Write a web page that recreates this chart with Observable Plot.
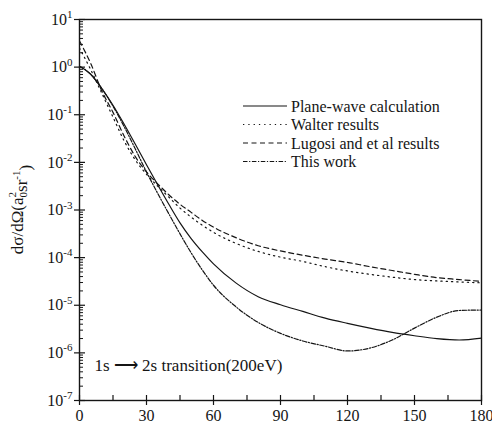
<!DOCTYPE html>
<html><head><meta charset="utf-8">
<script src="https://cdn.jsdelivr.net/npm/d3@7"></script>
<script src="https://cdn.jsdelivr.net/npm/@observablehq/plot@0.6"></script>
<style>body{margin:0;background:#fff} svg{display:block}
svg text{font-family:'Liberation Serif','Times New Roman',serif !important}</style>
</head><body><div id="chart"></div>
<script>
// ---- data (scattering angle in degrees, log10 of dσ/dΩ) ----
const angles = [0,5,10,15,20,25,30,35,40,45,50,55,60,70,80,90,100,110,120,130,140,150,160,170,180];
const planeWaveLog = [0.02,-0.15,-0.45,-0.80,-1.20,-1.62,-2.05,-2.47,-2.88,-3.27,-3.60,-3.88,-4.13,-4.53,-4.82,-4.99,-5.13,-5.27,-5.38,-5.48,-5.57,-5.64,-5.70,-5.73,-5.69];
const walterLog    = [0.40,-0.05,-0.55,-1.05,-1.55,-1.95,-2.25,-2.50,-2.73,-2.96,-3.15,-3.32,-3.47,-3.70,-3.87,-3.99,-4.08,-4.19,-4.28,-4.35,-4.41,-4.46,-4.49,-4.51,-4.53];
const lugosiLog    = [0.55,0.08,-0.50,-0.95,-1.45,-1.88,-2.20,-2.45,-2.68,-2.88,-3.05,-3.22,-3.36,-3.58,-3.75,-3.86,-3.95,-4.03,-4.10,-4.19,-4.27,-4.35,-4.42,-4.46,-4.50];
const thisWorkLog  = [0.02,-0.15,-0.45,-0.82,-1.25,-1.72,-2.20,-2.65,-3.08,-3.50,-3.90,-4.26,-4.58,-5.03,-5.36,-5.59,-5.75,-5.86,-5.96,-5.90,-5.73,-5.48,-5.25,-5.11,-5.10];
const seriesNames = ["Plane-wave calculation","Walter results","Lugosi and et al results","This work"];
const xTicks = [0,30,60,90,120,150,180];
const xMinorTicks = [15,45,75,105,135,165];
const yTickExponents = [-7,-6,-5,-4,-3,-2,-1,0,1];
const annotationText = "1s \u27F6 2s transition(200eV)";

// ---- styles ----
const INK = "#151515";
const FONT = "'Liberation Serif','Times New Roman',serif";
const dashes = ["none","1.3,4","5,3.5","4.5,1.6,1.2,1.6"];
const W = 492, H = 425, mL = 79, mR = 11, mT = 19, mB = 25;
const plotW = W - mL - mR, plotH = H - mT - mB;

const seriesLogs = [planeWaveLog, walterLog, lugosiLog, thisWorkLog];
const rows = [];
seriesNames.forEach((name, si) => angles.forEach((a, i) => rows.push({series: name, angle: a, value: 10 ** seriesLogs[si][i]})));
const yMajor = yTickExponents.map(e => 10 ** e);
const yMinor = [];
yTickExponents.slice(0, -1).forEach(e => { for (let m = 2; m <= 9; m++) yMinor.push(m * 10 ** e); });

const chart = Plot.plot({
  width: W, height: H, marginLeft: mL, marginRight: mR, marginTop: mT, marginBottom: mB,
  style: {fontFamily: FONT, fontSize: "16px", color: INK, background: "white", overflow: "visible"},
  x: {domain: [0, 180]},
  y: {type: "log", domain: [1e-7, 10]},
  marks: [
    ...seriesNames.map((name, si) => Plot.line(rows.filter(r => r.series === name), {
      x: "angle", y: "value", curve: "monotone-x", stroke: INK, strokeWidth: 1.2,
      strokeDasharray: dashes[si]
    })),
    Plot.tickY(yMinor, {y: d => d, insetRight: plotW - 4, stroke: INK, strokeWidth: 1}),
    Plot.tickY(yMajor, {y: d => d, insetRight: plotW - 6, stroke: INK, strokeWidth: 1.2}),
    Plot.tickX(xMinorTicks, {x: d => d, insetTop: plotH - 5, stroke: INK, strokeWidth: 1.2}),
    Plot.tickX(xTicks, {x: d => d, insetTop: plotH - 5, stroke: INK, strokeWidth: 1.2}),
    Plot.axisY({ticks: yMajor, tickSize: 5, tickPadding: 2, label: null, stroke: INK, strokeWidth: 1.2,
      tickFormat: d => String(Math.round(Math.log10(d))), fontSize: 16, fontFamily: FONT}),
    Plot.axisX({ticks: xTicks, tickSize: 5, tickPadding: 4, label: null, stroke: INK, strokeWidth: 1.2,
      tickFormat: d => String(d), fontSize: 16, fontFamily: FONT}),
    Plot.frame({stroke: INK, strokeWidth: 1.4}),
    Plot.text([annotationText], {frameAnchor: "bottom-left", dx: 15, dy: -35, text: d => d,
      textAnchor: "start", lineAnchor: "middle", fontSize: 17, fontFamily: FONT, fill: INK})
  ]
});
document.getElementById("chart").appendChild(chart);
chart.style.fontFamily = FONT;

const svg = d3.select(chart);
svg.selectAll("g[aria-label$='tick label']").attr("font-family", FONT).attr("fill", INK);
// superscript exponents on y tick labels
svg.selectAll('g[aria-label="y-axis tick label"] text').each(function () {
  const t = d3.select(this); const e = t.text().replace("\u2212", "-");
  t.text("10");
  t.append("tspan").attr("dy", "-0.6em").attr("font-size", "11px").text(e);
});

// y axis title with sub/superscripts
const yl = svg.append("text")
  .attr("transform", `translate(23,${mT + plotH / 2}) rotate(-90)`)
  .attr("text-anchor", "middle").attr("font-family", FONT).attr("font-size", 17).attr("fill", INK);
yl.append("tspan").text("dσ/dΩ(a");
yl.append("tspan").attr("font-size", 11).attr("dy", "0.35em").text("0");
yl.append("tspan").attr("font-size", 11).attr("dx", -5.5).attr("dy", "-1.0em").text("2");
yl.append("tspan").attr("dy", "0.65em").text("sr");
yl.append("tspan").attr("font-size", 11).attr("dy", "-0.6em").text("-1");
yl.append("tspan").attr("dy", "0.6em").text(")");

// legend inside the plot area
const lg = svg.append("g").attr("font-family", FONT).attr("font-size", 16).attr("fill", INK)
  .attr("text-anchor", "start");
seriesNames.forEach((name, i) => {
  const y = 106 + i * 18.5;
  lg.append("line").attr("x1", 243).attr("x2", 287).attr("y1", y).attr("y2", y)
    .attr("stroke", INK).attr("stroke-width", 1.2).attr("stroke-dasharray", dashes[i]);
  lg.append("text").attr("x", 291).attr("y", y).attr("dy", "0.35em").attr("text-anchor", "start").text(name);
});
</script>
</body></html>
